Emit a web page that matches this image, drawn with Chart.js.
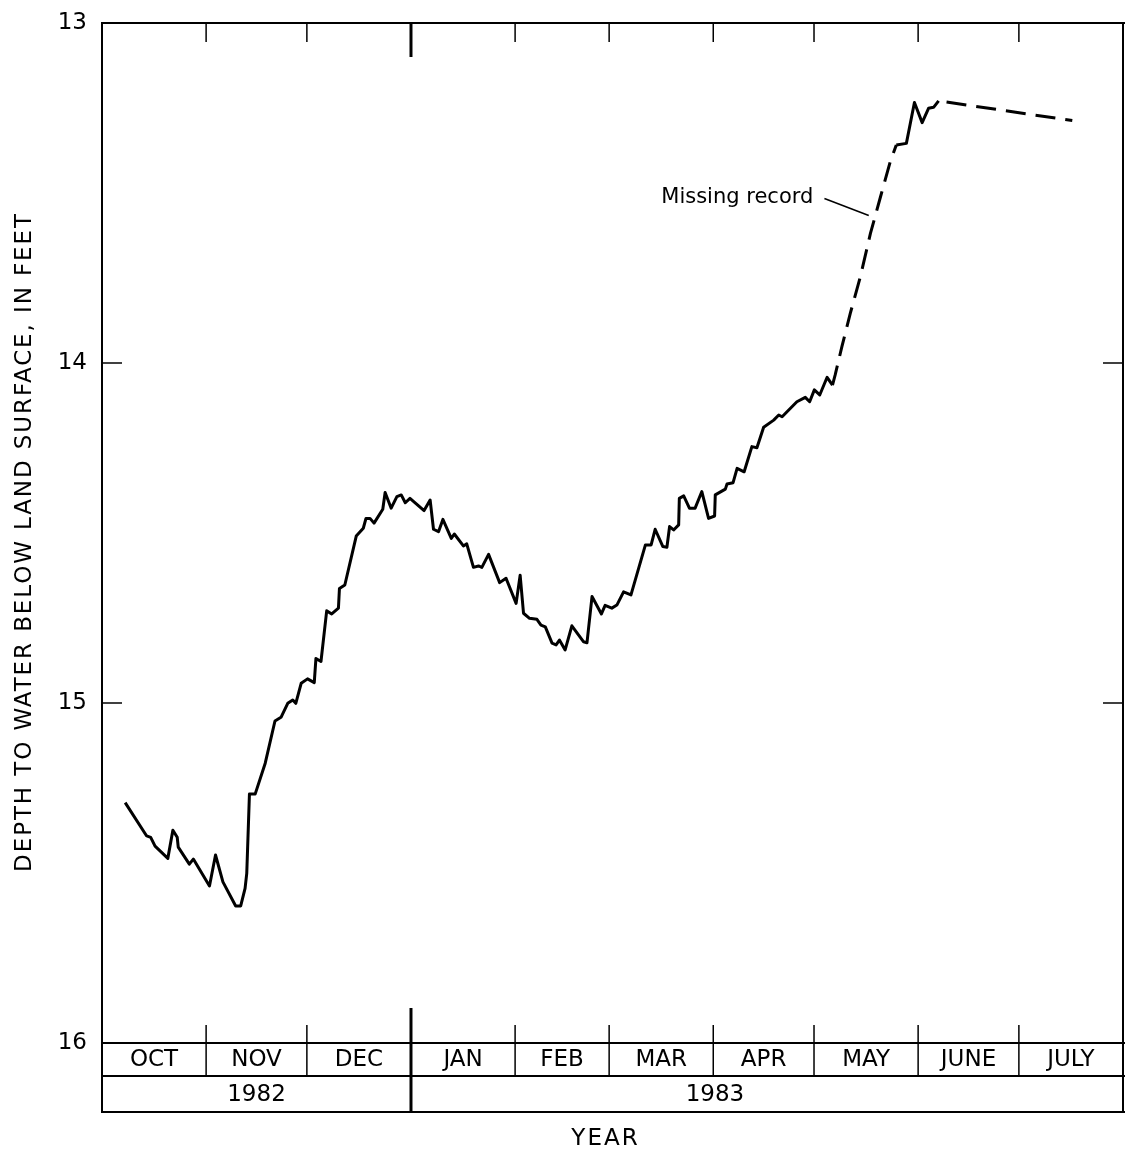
<!DOCTYPE html>
<html><head><meta charset="utf-8">
<script src="https://cdn.jsdelivr.net/npm/chart.js@4/dist/chart.umd.min.js"></script>
<style>html,body{margin:0;padding:0;background:#fff}#wrap{width:1125px;height:1150px}</style>
</head><body><div id="wrap"><canvas id="c" width="1125" height="1150"></canvas></div>
<script>
// Days counted from 1 October 1982; depth in feet below land surface
const recordedDays1 = [6.9,13.3,14.5,15.8,19.6,21.1,22.4,22.7,26.0,27.2,32.0,33.8,36.0,39.8,41.3,42.6,43.1,43.9,45.6,48.6,51.5,53.3,55.3,56.8,57.7,59.3,61.2,63.2,63.7,65.2,66.9,68.4,70.4,70.7,72.3,75.7,77.8,78.6,79.8,81.0,83.6,84.3,86.1,87.8,89.1,90.3,91.7,95.9,97.7,98.7,100.2,101.5,104.0,104.9,107.6,108.6,110.6,112.1,113.1,115.1,118.4,120.3,123.3,124.5,125.5,127.3,129.5,130.7,132.0,134.0,135.2,136.2,137.9,139.9,143.4,144.4,145.9,148.7,149.8,151.8,153.3,155.3,157.5,161.8,163.5,164.7,167.0,168.2,169.0,170.2,171.7,171.9,173.2,174.9,176.6,178.6,180.6,182.4,182.6,185.6,186.1,187.9,189.1,191.2,193.5,195.0,197.0,200.0,201.5,202.5,206.9,209.4,210.7,212.1,213.7,215.9,217.5];
const recordedDepth1 = [15.293,15.391,15.395,15.421,15.457,15.374,15.395,15.424,15.474,15.459,15.538,15.447,15.526,15.597,15.597,15.545,15.501,15.268,15.268,15.177,15.053,15.042,15.001,14.991,15.001,14.942,14.929,14.940,14.869,14.878,14.729,14.738,14.721,14.663,14.653,14.509,14.486,14.457,14.457,14.471,14.430,14.381,14.427,14.393,14.388,14.411,14.398,14.434,14.403,14.489,14.496,14.460,14.516,14.503,14.538,14.532,14.601,14.597,14.601,14.563,14.646,14.633,14.707,14.624,14.736,14.751,14.754,14.771,14.776,14.824,14.829,14.815,14.844,14.773,14.820,14.823,14.687,14.738,14.713,14.721,14.712,14.673,14.682,14.535,14.535,14.489,14.540,14.542,14.481,14.491,14.476,14.398,14.391,14.427,14.427,14.378,14.457,14.450,14.388,14.371,14.356,14.352,14.310,14.320,14.246,14.249,14.189,14.168,14.153,14.158,14.114,14.101,14.114,14.079,14.094,14.042,14.065];
const missingDays1 = [217.5,218.3,220.3,222.8,225.8,228.8,231.8,234.7,236.5];
const missingDepth1 = [14.065,14.035,13.952,13.854,13.746,13.619,13.511,13.408,13.359];
const recordedDays2 = [236.5,239.5,241.9,244.2,246.1,247.6,249.1];
const recordedDepth2 = [13.359,13.354,13.234,13.293,13.251,13.248,13.229];
const missingDays2 = [249.1,288.9];
const missingDepth2 = [13.229,13.287];

const monthStartDays = [0,31,61,92,123,151,182,212,243,273,304];
const monthLabels = ['OCT','NOV','DEC','JAN','FEB','MAR','APR','MAY','JUNE','JULY'];
const yearLabels = ['1982','1983'];
const yearLabelSpans = [[0,92],[92,273]];
const yearBoundaryDays = [92];
const innerTickDepths = [14,15];
const annotationText = 'Missing record';
const annotationTextAnchor = [211.8, 13.512];
const annotationLeader = [[215.1,13.516],[228.3,13.566]];

function pts(xs, ys){ return xs.map((x,i)=>({x:x, y:ys[i]})); }

const solidStyle = {borderColor:'#000', borderWidth:3, pointRadius:0, tension:0, fill:false, borderJoinStyle:'round', borderCapStyle:'butt'};
const dashStyle = Object.assign({}, solidStyle, {borderDash:[20,10]});

const framePlugin = {
  id:'frame',
  afterDraw(chart){
    const ctx = chart.ctx, xs = chart.scales.x, ys = chart.scales.y, a = chart.chartArea;
    const L = a.left, T = a.top, R = a.right, B = a.bottom, W = chart.width;
    const mB = B + 33, yB = mB + 36;
    const ln = (x1,y1,x2,y2,w)=>{ ctx.lineWidth = w||2; ctx.beginPath(); ctx.moveTo(x1,y1); ctx.lineTo(x2,y2); ctx.stroke(); };
    ctx.save();
    ctx.strokeStyle = '#000'; ctx.fillStyle = '#000'; ctx.lineCap = 'butt';
    ln(L, T-1, L, yB+1);
    ln(L, T, W, T);
    ln(R, T, R, yB);
    ln(L, B, W, B);
    ln(L, mB, W, mB);
    ln(L, yB, W, yB);
    // inner y ticks
    innerTickDepths.forEach(v=>{ const y = ys.getPixelForValue(v); ln(L, y, L+20, y, 1.5); ln(R-20, y, R, y, 1.5); });
    // month boundaries
    monthStartDays.slice(1, -1).forEach(d=>{
      const x = xs.getPixelForValue(d);
      if (yearBoundaryDays.includes(d)) {
        ln(x, T, x, T+34, 3);
        ln(x, B-35, x, yB, 3);
      } else {
        ln(x, T, x, T+19, 1.5);
        ln(x, B-18, x, mB, 1.5);
      }
    });
    // month labels
    ctx.font = '23px "DejaVu Sans"'; ctx.textAlign = 'center'; ctx.textBaseline = 'middle';
    monthLabels.forEach((m,i)=>{
      const x = (xs.getPixelForValue(monthStartDays[i]) + xs.getPixelForValue(monthStartDays[i+1]))/2;
      ctx.fillText(m, x, B + 17.5);
    });
    yearLabels.forEach((t,i)=>{
      const x = (xs.getPixelForValue(yearLabelSpans[i][0]) + xs.getPixelForValue(yearLabelSpans[i][1]))/2;
      ctx.fillText(t, x, mB + 19);
    });
    // x title
    ctx.font = '23px "DejaVu Sans"';
    ctx.letterSpacing = '2px';
    ctx.fillText('YEAR', (L+R)/2 - 7, yB + 27);
    // y title
    ctx.save();
    ctx.translate(25, (T+B)/2 + 9);
    ctx.rotate(-Math.PI/2);
    ctx.font = '23px "DejaVu Sans"';
    ctx.letterSpacing = '1.9px';
    ctx.fillText('DEPTH TO WATER BELOW LAND SURFACE, IN FEET', 0, 0);
    ctx.restore();
    ctx.letterSpacing = '0px';
    // annotation
    ctx.font = '21px "DejaVu Sans"'; ctx.textAlign = 'right'; ctx.textBaseline = 'middle';
    ctx.fillText(annotationText, xs.getPixelForValue(annotationTextAnchor[0]), ys.getPixelForValue(annotationTextAnchor[1]));
    ln(xs.getPixelForValue(annotationLeader[0][0]), ys.getPixelForValue(annotationLeader[0][1]),
       xs.getPixelForValue(annotationLeader[1][0]), ys.getPixelForValue(annotationLeader[1][1]), 1.5);
    ctx.restore();
  }
};

new Chart(document.getElementById('c'), {
  type:'line',
  data:{ datasets:[
    Object.assign({data:pts(recordedDays1, recordedDepth1)}, solidStyle),
    Object.assign({data:pts(missingDays1, missingDepth1)}, dashStyle),
    Object.assign({data:pts(recordedDays2, recordedDepth2)}, solidStyle),
    Object.assign({data:pts(missingDays2, missingDepth2)}, dashStyle, {borderDashOffset:22})
  ]},
  options:{
    responsive:false, animation:false, devicePixelRatio:1,
    layout:{padding:{top:23, bottom:107, left:0, right:2}},
    plugins:{legend:{display:false}, tooltip:{enabled:false}, title:{display:false}},
    scales:{
      x:{type:'linear', min:monthStartDays[0], max:monthStartDays[monthStartDays.length-1], display:false},
      y:{type:'linear', reverse:true, min:13, max:16,
         grid:{display:false, drawTicks:false}, border:{display:false},
         ticks:{stepSize:1, color:'#000', padding:15, font:{family:'DejaVu Sans', size:23}},
         afterFit(scale){ scale.width = 102; scale.paddingTop = 12; scale.paddingBottom = 12; }
      }
    }
  },
  plugins:[framePlugin]
});
</script></body></html>
